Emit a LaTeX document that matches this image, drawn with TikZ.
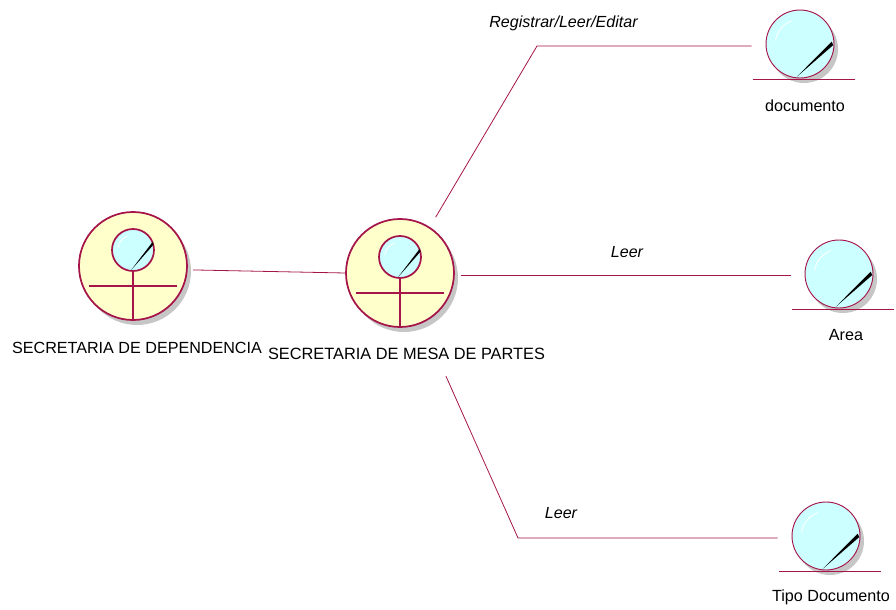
\documentclass[tikz,border=0pt]{standalone}
\usepackage{fontspec}
\setmainfont{Liberation Sans}
\usetikzlibrary{calc}
\definecolor{rosered}{HTML}{A5154A}
\definecolor{actorfill}{HTML}{FFFFCC}
\definecolor{glassfill}{HTML}{CCFFFF}
\definecolor{shadowgray}{HTML}{C6C6C6}
\tikzset{
  x=0.75pt,y=-0.75pt,
  assoc/.style={draw=rosered,line width=0.6pt},
  limb/.style={draw=rosered,line width=1.3pt},
  actorball/.style={circle,draw=rosered,line width=1.3pt,fill=actorfill,minimum size=81pt,inner sep=0pt},
  headball/.style={circle,draw=rosered,line width=1.3pt,fill=glassfill,minimum size=31.5pt,inner sep=0pt},
  entityball/.style={circle,draw=rosered,line width=0.7pt,fill=glassfill,minimum size=51pt,inner sep=0pt},
  ground/.style={draw=rosered,line width=0.7pt},
  caption/.style={font=\fontsize{12.1}{14}\selectfont,inner sep=0pt,text=black},
  widecaption/.style={font=\fontsize{12.25}{14}\selectfont,inner sep=0pt,text=black},
  rolelabel/.style={font=\fontsize{12.05}{14}\selectfont\itshape,inner sep=0pt,text=black},
}
% #1 x, #2 y, #3 radius in px, #4 y of wedge tip upper edge, #5 y of wedge tip lower edge (fractions of radius)
\newcommand{\glassdetail}[5]{%
  \fill[black] ($(#1,#2)+({#3*0.93},{#3*#4})$) -- ($(#1,#2)+({#3*0.98},{#3*#5})$) -- ($(#1,#2)+({-#3*0.1},{#3*0.97})$) -- cycle;
  \draw[white,line width=0.6pt] ($(#1,#2)+({-#3*0.72},{-#3*0.1})$) arc[start angle=172,end angle=108,radius=#3*0.72*0.75pt];
}
\newcommand{\actorfig}[3]{%
  \fill[shadowgray] (#2+4,#3+5) circle[radius=40.5pt];
  \node[actorball] (#1) at (#2,#3) {};
  \node[headball] (#1head) at (#2,#3-16) {};
  \glassdetail{#2}{#3-16}{21}{-0.38}{-0.26}
  \draw[limb] (#1head.south) -- (#1.south);
  \draw[limb] (#2-44,#3+20) -- (#2+44,#3+20);
}
\newcommand{\entityfig}[3]{%
  \fill[shadowgray] (#2+4,#3+5) circle[radius=25.5pt];
  \node[entityball] (#1) at (#2,#3) {};
  \glassdetail{#2}{#3}{34}{-0.07}{0.03}
  \draw[ground] (#2-47,#3+35.5) -- (#2+55,#3+35.5);
}
\begin{document}
\begin{tikzpicture}
\useasboundingbox (0,0) rectangle (896,610);
\actorfig{dep}{133}{266}
\actorfig{mesa}{400}{273}
\entityfig{doc}{800}{44}
\entityfig{area}{839}{274}
\entityfig{tipo}{826}{536}

\coordinate (elbowA) at (537,46);
\coordinate (elbowB) at (518,538);

\draw[assoc,shorten <=4pt] (dep.-4) -- (mesa.west);
\draw[assoc,shorten <=8.5pt,shorten >=10.5pt] (mesa.57.5) -- (elbowA) -- (doc.west |- elbowA);
\draw[assoc,shorten <=4.5pt,shorten >=10.5pt] (mesa.-3) -- (mesa.-3 -| area.west);
\draw[assoc,shorten <=43.5pt,shorten >=10.5pt] (mesa.-66.4) -- (elbowB) -- (tipo.west |- elbowB);

\node[caption] (depl) at (137,348) {SECRETARIA DE DEPENDENCIA};
\node[widecaption] (mesal) at (406.5,354) {SECRETARIA DE MESA DE PARTES};
\node[caption] (docl) at (805,106) {documento};
\node[caption] (areal) at (846,335) {Area};
\node[caption] (tipol) at (831,597) {Tipo Documento};
\node[rolelabel] (r1) at (563.5,23) {Registrar/Leer/Editar};
\node[rolelabel] (r2) at (627,252) {Leer};
\node[rolelabel] (r3) at (561,513) {Leer};
\end{tikzpicture}
\end{document}
